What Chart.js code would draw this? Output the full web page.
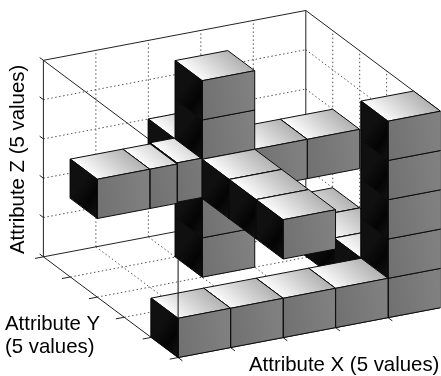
<!DOCTYPE html>
<html>
<head>
<meta charset="utf-8">
<style>
  html, body { margin: 0; padding: 0; background: #fff; }
  canvas { display: block; }
</style>
<script src="https://cdn.jsdelivr.net/npm/chart.js@4"></script>
</head>
<body>
<canvas id="cubeChart" width="441" height="376"></canvas>
<script>
// occupied cells of the 5x5x5 grid, one cube per index
const cubeX = [0, 1, 2, 3, 4, 4, 4, 4, 4, 4, 4, 4, 2, 2, 2, 2, 2, 0, 1, 1.52, 3, 4, 2, 2, 2, 2];
const cubeY = [4, 4, 4, 4, 4, 4, 4, 4, 4, 1, 2, 3, 1, 1, 1, 1, 1, 1, 1, 1, 1, 1, 0, 2, 3, 4];
const cubeZ = [0, 0, 0, 0, 0, 1, 2, 3, 4, 0, 0, 0, 0, 1, 2, 3, 4, 2, 2, 2.03, 2, 2, 2, 2, 2, 2];
const cubeW = [1, 1, 1, 1, 1, 1, 1, 1, 1, 1, 1, 1, 1, 1, 1, 1, 1, 1, 0.52, 1, 1, 1, 1, 1, 1, 1];

const tickValues = [0, 1, 2, 3, 4, 5];
const innerTicks = [1, 2, 3, 4];

const axisLabels = ['Attribute Z (5 values)', 'Attribute Y', '(5 values)', 'Attribute X (5 values)'];

// oblique view of the box
function project(x, y, z) {
  return {
    x: 43 + 52.6 * x + 27 * y,
    y: 257 - 10 * x + 20.2 * y - 39.4 * z
  };
}

function makeFill(from, to, stops) {
  return (c) => {
    const sx = c.chart.scales.x, sy = c.chart.scales.y;
    // scales have no size yet on the first option pass
    if (!sx || !sy || !isFinite(sx.getPixelForValue(from.x)) || !isFinite(sy.getPixelForValue(from.y))) return stops[1];
    const g = c.chart.ctx.createLinearGradient(
      sx.getPixelForValue(from.x), sy.getPixelForValue(from.y),
      sx.getPixelForValue(to.x), sy.getPixelForValue(to.y));
    stops.forEach((s, i) => g.addColorStop(i / (stops.length - 1), s));
    return g;
  };
}

const topStops = ['#fafafa', '#d6d6d6', '#b4b4b4'];
const leftStops = ['#101010', '#040404', '#141414'];
const frontStops = ['#707070', '#787878', '#808080'];

const datasets = [];

function addLine(pts, style) {
  datasets.push(Object.assign({
    data: pts,
    showLine: true,
    pointRadius: 0,
    borderColor: '#222',
    borderWidth: 1,
    fill: false
  }, style));
}

function addFace(pts, from, to, stops) {
  addLine(pts.concat([pts[0]]), {
    fill: 'shape',
    backgroundColor: makeFill(from, to, stops),
    borderColor: '#0c0c0c',
    borderJoinStyle: 'round'
  });
}

// dotted grid on back wall, right wall, floor
const dotted = { borderColor: '#555', borderDash: [1.5, 2.5] };
innerTicks.forEach((t) => {
  addLine([project(t, 0, 0), project(t, 0, 5)], dotted);
  addLine([project(0, 0, t), project(5, 0, t)], dotted);
  addLine([project(5, t, 0), project(5, t, 5)], dotted);
  addLine([project(5, 0, t), project(5, 5, t)], dotted);
  addLine([project(t, 0, 0), project(t, 5, 0)], dotted);
  addLine([project(0, t, 0), project(5, t, 0)], dotted);
});

// box edges
[
  [[0, 0, 0], [0, 0, 5]],
  [[0, 0, 5], [5, 0, 5]],
  [[0, 0, 0], [5, 0, 0]],
  [[5, 0, 0], [5, 0, 5]],
  [[0, 0, 5], [0, 5, 5]],
  [[0, 0, 0], [0, 5, 0]],
  [[5, 0, 5], [5, 5, 5]],
  [[0, 5, 0], [5, 5, 0]]
].forEach((e) => addLine([project(...e[0]), project(...e[1])]));

// ticks
tickValues.forEach((t) => {
  addLine([project(0, 0, t), project(0, -0.14, t)]);
  addLine([project(0, t, 0), project(-0.16, t, 0)]);
  addLine([project(t, 5, 0), project(t, 5.16, 0)]);
});

// cubes, far ones first
const drawOrder = cubeX.map((_, i) => i).sort((a, b) =>
  Math.round(cubeX[b]) - Math.round(cubeX[a]) || cubeY[a] - cubeY[b] || cubeZ[a] - cubeZ[b]);

drawOrder.forEach((i) => {
  const x = cubeX[i], y = cubeY[i], z = cubeZ[i], x1 = x + cubeW[i], y1 = y + 1, z1 = z + 1;
  addFace(
    [project(x, y, z1), project(x, y1, z1), project(x1, y1, z1), project(x1, y, z1)],
    project(x, y1, z1), project(x + 1, y, z1), topStops);
  addFace(
    [project(x, y, z), project(x, y1, z), project(x, y1, z1), project(x, y, z1)],
    project(x, y, z), project(x, y1, z), leftStops);
  addFace(
    [project(x, y1, z), project(x1, y1, z), project(x1, y1, z1), project(x, y1, z1)],
    project(x, y1, z), project(x + 1, y1, z), frontStops);
});

// front upright of the box shows over the first cube
addLine([project(0, 5, 0), project(0, 5, 2.49)], { borderColor: '#111' });

// first dataset draws on top otherwise
datasets.forEach((d, i) => { d.order = -i; });

const labelPlugin = {
  id: 'axisLabels',
  afterDraw(chart) {
    const ctx = chart.ctx;
    ctx.save();
    ctx.fillStyle = '#000';
    ctx.font = '20.4px "Liberation Sans", Arial, sans-serif';
    ctx.textBaseline = 'alphabetic';
    ctx.fillText(axisLabels[1], 5, 330);
    ctx.fillText(axisLabels[2], 5, 353);
    ctx.fillText(axisLabels[3], 249, 371);
    ctx.translate(24, 254);
    ctx.rotate(-Math.PI / 2);
    ctx.fillText(axisLabels[0], 0, 0);
    ctx.restore();
  }
};

const chart = new Chart(document.getElementById('cubeChart'), {
  type: 'scatter',
  data: { datasets },
  plugins: [labelPlugin],
  options: {
    responsive: false,
    animation: false,
    events: [],
    layout: { padding: 0 },
    plugins: { legend: { display: false }, tooltip: { enabled: false } },
    scales: {
      x: { type: 'linear', display: false, min: 0, max: 441 },
      y: { type: 'linear', display: false, min: 0, max: 376, reverse: true }
    }
  }
});
chart.update();
</script>
</body>
</html>
